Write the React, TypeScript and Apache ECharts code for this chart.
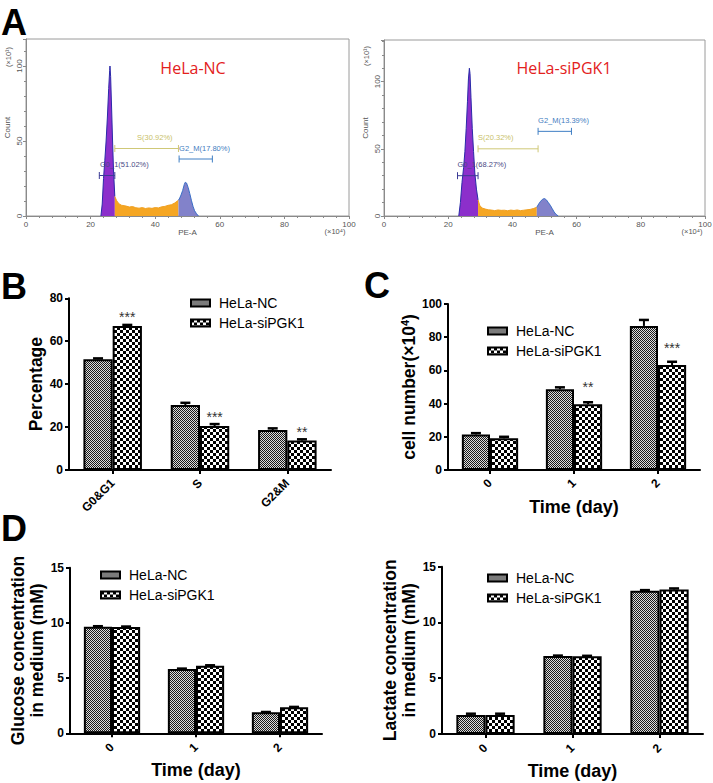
import React, { useEffect, useRef } from 'react';
import * as echarts from 'echarts';

const FONT = '"Liberation Sans", Arial, Helvetica, sans-serif';
const OPEN = '"Open Sans", "Liberation Sans", sans-serif';

// ---------- Panel A: cell-cycle histograms (PE-A x10^4 vs Count x10^1) ----------
const ncG01X = [23.2, 23.6, 24.0, 24.4, 24.8, 25.2, 25.6, 25.9, 26.0, 26.2, 26.5, 26.8, 27.1, 27.5];
const ncG01Y = [0, 8, 25, 37, 50, 66, 85, 97, 100, 93, 72, 50, 30, 13];
const ncSX = [27.5, 28.0, 28.5, 29.0, 29.5, 30.0, 31.0, 32.0, 33.0, 34.0, 35.0, 36.0, 37.0, 38.0, 39.0, 40.0, 41.0, 42.0, 43.0, 44.0, 45.0, 46.0, 47.2];
const ncSY = [13, 10.5, 8.8, 7.9, 7.2, 7.0, 6.6, 6.0, 6.3, 5.5, 5.2, 5.6, 5.0, 5.4, 5.1, 5.6, 5.4, 6.1, 6.4, 7.1, 7.5, 8.6, 10.5];
const ncG2X = [47.2, 47.6, 48.0, 48.5, 49.0, 49.3, 49.7, 50.2, 50.7, 51.2, 51.7, 52.2, 52.8, 53.4];
const ncG2Y = [10.5, 12, 14, 17, 21, 22.5, 22, 19, 15, 10.5, 6.5, 3.5, 1.5, 0];

const siG01X = [23.3, 23.8, 24.3, 24.8, 25.2, 25.6, 26.0, 26.3, 26.6, 26.8, 27.1, 27.5, 27.9, 28.3, 28.8, 29.3];
const siG01Y = [0, 10, 25, 36, 48, 65, 85, 102, 110, 106, 88, 65, 48, 32, 20, 12];
const siSX = [29.3, 29.8, 30.5, 31.5, 32.5, 33.5, 34.5, 35.5, 36.5, 37.5, 38.5, 39.5, 40.5, 41.5, 42.5, 43.5, 44.5, 45.5, 46.5, 47.6];
const siSY = [12, 8, 6, 5.2, 4.6, 4.4, 4.0, 4.5, 4.2, 4.3, 3.9, 4.4, 4.1, 4.5, 4.0, 4.3, 4.6, 4.9, 5.5, 6.5];
const siG2X = [47.6, 48.2, 48.8, 49.4, 50.0, 50.6, 51.2, 51.8, 52.4, 53.0, 53.6, 54.3];
const siG2Y = [6.5, 9, 11, 12.5, 13, 12, 10, 8, 5.5, 3, 1.2, 0];

const ncGateNames = ['G0_1(51.02%)', 'S(30.92%)', 'G2_M(17.80%)'];
const ncGateFrom = [22.7, 27.5, 47.4];
const ncGateTo = [27.5, 47.2, 57.7];
const ncGateLevel = [27, 45, 38];
const ncGateLabelAt = [22.9, 34.4, 47.4];

const siGateNames = ['G0_1(68.27%)', 'S(20.32%)', 'G2_M(13.39%)'];
const siGateFrom = [22.9, 29.3, 48.0];
const siGateTo = [29.3, 48.0, 58.4];
const siGateLevel = [30, 50, 63];
const siGateLabelAt = [22.9, 29.3, 48.0];

const histXTicks = [0, 20, 40, 60, 80, 100];

// ---------- Panel B: cell cycle distribution (%) ----------
const cycleCats = ['G0&G1', 'S', 'G2&M'];
const cycleNC = [51.6, 30.3, 18.6];
const cycleNCErr = [0.4, 1.0, 0.8];
const cycleSi = [67.1, 20.5, 13.7];
const cycleSiErr = [0.5, 0.9, 0.6];
const cycleStars = ['***', '***', '**'];

// ---------- Panel C: cell number (x10^4) ----------
const dayCats = ['0', '1', '2'];
const cellNC = [21.4, 48.6, 86.8];
const cellNCErr = [0.8, 1.2, 3.6];
const cellSi = [19.1, 39.6, 63.2];
const cellSiErr = [0.9, 1.2, 2.0];
const cellStars = ['', '**', '***'];

// ---------- Panel D: glucose / lactate in medium (mM) ----------
const glucoseNC = [9.65, 5.82, 1.9];
const glucoseNCErr = [0.05, 0.04, 0.03];
const glucoseSi = [9.62, 6.12, 2.35];
const glucoseSiErr = [0.05, 0.04, 0.04];

const lactateNC = [1.7, 7.0, 12.85];
const lactateNCErr = [0.12, 0.03, 0.05];
const lactateSi = [1.7, 6.98, 12.95];
const lactateSiErr = [0.12, 0.03, 0.1];

const BAR_FRAC = 0.335;

function makePattern(cell: number, dark: string, light: string) {
  const c = document.createElement('canvas');
  c.width = cell * 2;
  c.height = cell * 2;
  const g = c.getContext('2d')!;
  g.fillStyle = light;
  g.fillRect(0, 0, cell * 2, cell * 2);
  g.fillStyle = dark;
  g.fillRect(0, 0, cell, cell);
  g.fillRect(cell, cell, cell, cell);
  return { image: c, repeat: 'repeat', imageWidth: cell * 2, imageHeight: cell * 2 } as any;
}

function histSeries(name: string, xs: number[], ys: number[], idx: number, fill: string, stroke: string) {
  return {
    name,
    type: 'line',
    xAxisIndex: idx,
    yAxisIndex: idx,
    data: xs.map((x, i) => [x, ys[i]]),
    symbol: 'none',
    lineStyle: { color: stroke, width: 1 },
    areaStyle: { color: fill, opacity: 1 },
    silent: true,
    z: 2,
  };
}

function gateSeries(idx: number, names: string[], from: number[], to: number[], level: number[], labelAt: number[], colors: string[], textColors: string[]) {
  return {
    name: 'gates' + idx,
    type: 'custom',
    xAxisIndex: idx,
    yAxisIndex: idx,
    silent: true,
    z: 5,
    encode: { x: [0, 1, 3], y: 2 },
    data: from.map((f, i) => [f, to[i], level[i], labelAt[i]]),
    renderItem: (params: any, api: any) => {
      const i = params.dataIndex;
      const p1 = api.coord([api.value(0), api.value(2)]);
      const p2 = api.coord([api.value(1), api.value(2)]);
      const pl = api.coord([api.value(3), api.value(2)]);
      const col = colors[i];
      return {
        type: 'group',
        children: [
          { type: 'line', shape: { x1: p1[0], y1: p1[1], x2: p2[0], y2: p2[1] }, style: { stroke: col, lineWidth: 1 } },
          { type: 'line', shape: { x1: p1[0], y1: p1[1] - 3.5, x2: p1[0], y2: p1[1] + 3.5 }, style: { stroke: col, lineWidth: 1 } },
          { type: 'line', shape: { x1: p2[0], y1: p2[1] - 3.5, x2: p2[0], y2: p2[1] + 3.5 }, style: { stroke: col, lineWidth: 1 } },
          {
            type: 'text',
            x: pl[0],
            y: pl[1] - 11,
            style: { text: names[i], fill: textColors[i], fontSize: 7.5, fontFamily: FONT, textAlign: 'left', textVerticalAlign: 'middle' },
          },
        ],
      };
    },
  };
}

function errorSeries(idx: number, nc: number[], ncErr: number[], si: number[], siErr: number[]) {
  const data: number[][] = [];
  nc.forEach((v, i) => data.push([i, v, ncErr[i], 0]));
  si.forEach((v, i) => data.push([i, v, siErr[i], 1]));
  return {
    name: 'err' + idx,
    type: 'custom',
    xAxisIndex: idx,
    yAxisIndex: idx,
    silent: true,
    z: 4,
    encode: { x: 0, y: 1 },
    data,
    renderItem: (params: any, api: any) => {
      const cat = api.value(0);
      const val = api.value(1);
      const err = api.value(2);
      const side = api.value(3);
      const band = api.size([1, 0])[0];
      const bw = band * BAR_FRAC;
      const base = api.coord([cat, val]);
      const tip = api.coord([cat, val + err]);
      const x = base[0] + (side === 0 ? -bw / 2 : bw / 2);
      return {
        type: 'group',
        children: [
          { type: 'line', shape: { x1: x, y1: base[1], x2: x, y2: tip[1] }, style: { stroke: '#000', lineWidth: 2 } },
          { type: 'line', shape: { x1: x - 5, y1: tip[1], x2: x + 5, y2: tip[1] }, style: { stroke: '#000', lineWidth: 2.5 } },
        ],
      };
    },
  };
}

export default function App() {
  const ref = useRef<HTMLDivElement>(null);

  useEffect(() => {
    if (!ref.current) return;
    const chart = echarts.init(ref.current, undefined, { renderer: 'svg' });

    const ncPat = makePattern(1, '#1a1a1a', '#dcdcdc');
    const siPat = makePattern(3, '#000000', '#ffffff');

    const histX = (idx: number) => ({
      gridIndex: idx,
      type: 'value',
      min: 0,
      max: 100,
      interval: 20,
      axisLine: { show: true, lineStyle: { color: '#8a8a8a', width: 1 } },
      axisTick: { show: true, length: 3, lineStyle: { color: '#8a8a8a' } },
      minorTick: { show: true, splitNumber: 5, length: 2, lineStyle: { color: '#8a8a8a' } },
      splitLine: { show: false },
      minorSplitLine: { show: false },
      axisLabel: {
        fontSize: 8,
        color: '#555',
        fontFamily: FONT,
        margin: 4,
        formatter: (v: number) => (histXTicks.indexOf(v) >= 0 ? String(v) : ''),
      },
      name: 'PE-A',
      nameLocation: 'middle',
      nameGap: 7,
      nameTextStyle: { fontSize: 8, color: '#555', fontFamily: FONT },
    });
    const histY = (idx: number, max: number) => ({
      gridIndex: idx,
      type: 'value',
      min: 0,
      max,
      interval: 50,
      axisLine: { show: true, lineStyle: { color: '#8a8a8a', width: 1 } },
      axisTick: { show: true, length: 3, lineStyle: { color: '#8a8a8a' } },
      minorTick: { show: true, splitNumber: 5, length: 2, lineStyle: { color: '#8a8a8a' } },
      splitLine: { show: false },
      minorSplitLine: { show: false },
      axisLabel: { rotate: 90, fontSize: 8, color: '#555', fontFamily: FONT, margin: 3, showMaxLabel: false },
      name: 'Count',
      nameLocation: 'middle',
      nameGap: 15,
      nameTextStyle: { fontSize: 8, color: '#555', fontFamily: FONT },
    });

    const barX = (idx: number, data: string[], name: string, margin: number) => ({
      gridIndex: idx,
      type: 'category',
      data,
      axisLine: { show: true, lineStyle: { color: '#000', width: 2 } },
      axisTick: { show: true, alignWithLabel: true, length: 4, lineStyle: { color: '#000', width: 2 } },
      axisLabel: { interval: 0, rotate: 45, fontSize: 12, fontWeight: 'bold', color: '#000', fontFamily: FONT, margin },
      splitLine: { show: false },
      name,
      nameLocation: 'middle',
      nameGap: 28,
      nameTextStyle: { fontSize: 18, fontWeight: 'bold', color: '#000', fontFamily: FONT },
    });
    const barY = (idx: number, max: number, interval: number, name: string, nameGap: number) => ({
      gridIndex: idx,
      type: 'value',
      min: 0,
      max,
      interval,
      axisLine: { show: true, lineStyle: { color: '#000', width: 2 } },
      axisTick: { show: true, length: 4, lineStyle: { color: '#000', width: 2 } },
      axisLabel: { fontSize: 12, fontWeight: 'bold', color: '#000', fontFamily: FONT, margin: 6 },
      splitLine: { show: false },
      name,
      nameLocation: 'middle',
      nameGap,
      nameTextStyle: {
        fontSize: 17.5,
        fontWeight: 'bold',
        color: '#000',
        fontFamily: FONT,
        lineHeight: 19,
        rich: { sup: { fontSize: 11, fontWeight: 'bold', color: '#000', fontFamily: FONT, padding: [0, 0, 8, 0] } },
      },
    });

    const barPair = (idx: number, nc: number[], si: number[], stars: string[] | null, starDist: number) => [
      {
        name: 'HeLa-NC',
        type: 'bar',
        xAxisIndex: idx,
        yAxisIndex: idx,
        data: nc,
        barWidth: BAR_FRAC * 100 + '%',
        barGap: '0%',
        itemStyle: { color: ncPat, borderColor: '#000', borderWidth: 2 },
        silent: true,
        z: 2,
      },
      {
        name: 'HeLa-siPGK1',
        type: 'bar',
        xAxisIndex: idx,
        yAxisIndex: idx,
        data: si,
        barWidth: BAR_FRAC * 100 + '%',
        barGap: '0%',
        itemStyle: { color: siPat, borderColor: '#000', borderWidth: 2 },
        silent: true,
        z: 2,
        label: stars
          ? {
              show: true,
              position: 'top',
              distance: starDist,
              fontSize: 14,
              color: '#333',
              fontFamily: FONT,
              formatter: (p: any) => stars[p.dataIndex],
            }
          : { show: false },
      },
    ];

    const legend = (left: number, top: number) => ({
      data: ['HeLa-NC', 'HeLa-siPGK1'],
      orient: 'vertical',
      left,
      top,
      padding: 0,
      icon: 'rect',
      itemWidth: 19,
      itemHeight: 7,
      itemGap: 6,
      selectedMode: false,
      itemStyle: { borderColor: '#000', borderWidth: 2 },
      textStyle: { fontSize: 14, color: '#000', fontFamily: FONT, lineHeight: 14, padding: [0, 0, 0, 4] },
    });

    const letter = (t: string, x: number, y: number) => ({
      type: 'text',
      x,
      y,
      style: { text: t, fill: '#000', fontSize: 36, fontWeight: 'bold', fontFamily: FONT, textAlign: 'center', textVerticalAlign: 'middle' },
    });
    const small = (t: string, x: number, y: number, rot: number) => ({
      type: 'text',
      x,
      y,
      rotation: rot,
      style: { text: t, fill: '#555', fontSize: 7.5, fontFamily: FONT, textAlign: 'center', textVerticalAlign: 'middle' },
    });
    const title = (t: string, x: number, y: number) => ({
      type: 'text',
      x,
      y,
      style: { text: t, fill: '#E3211C', fontSize: 16, fontFamily: OPEN, textAlign: 'center', textVerticalAlign: 'middle' },
    });

    const gateColors = ['#3b3b96', '#cfc877', '#3f7fc4'];
    const gateText = ['#4a4a85', '#c9bf6a', '#3f7cc0'];

    const option: any = {
      animation: false,
      backgroundColor: '#ffffff',
      grid: [
        { left: 26, top: 39, width: 323, height: 177, show: true, borderColor: '#9a9a9a', borderWidth: 1, outerBoundsMode: 'none' },
        { left: 384, top: 40, width: 321, height: 176, show: true, borderColor: '#9a9a9a', borderWidth: 1, outerBoundsMode: 'none' },
        { left: 69, top: 298.3, width: 262, height: 171.7, outerBoundsMode: 'none' },
        { left: 448, top: 304, width: 252, height: 166, outerBoundsMode: 'none' },
        { left: 70, top: 567.7, width: 252, height: 165.6, outerBoundsMode: 'none' },
        { left: 442, top: 566.7, width: 261, height: 167.3, outerBoundsMode: 'none' },
      ],
      xAxis: [
        histX(0),
        histX(1),
        barX(2, cycleCats, '', 11),
        barX(3, dayCats, 'Time (day)', 11),
        barX(4, dayCats, 'Time (day)', 12),
        barX(5, dayCats, 'Time (day)', 12),
      ],
      yAxis: [
        histY(0, 118),
        histY(1, 131),
        barY(2, 80, 20, 'Percentage', 23),
        barY(3, 100, 20, 'cell number(×10{sup|4})', 29),
        barY(4, 15, 5, 'Glucose concentration\nin medium (mM)', 19),
        barY(5, 15, 5, 'Lactate concentration\nin medium (mM)', 19),
      ],
      legend: [legend(190, 296), legend(487, 324), legend(100, 568), legend(487, 571)],
      series: [
        histSeries('NC G0/G1', ncG01X, ncG01Y, 0, '#8C2FCB', '#2a2aa8'),
        histSeries('NC S', ncSX, ncSY, 0, '#F5A623', '#F0A020'),
        histSeries('NC G2/M', ncG2X, ncG2Y, 0, '#8282CA', '#3a6ec6'),
        histSeries('si G0/G1', siG01X, siG01Y, 1, '#8C2FCB', '#2a2aa8'),
        histSeries('si S', siSX, siSY, 1, '#F5A623', '#F0A020'),
        histSeries('si G2/M', siG2X, siG2Y, 1, '#8282CA', '#3a6ec6'),
        gateSeries(0, ncGateNames, ncGateFrom, ncGateTo, ncGateLevel, ncGateLabelAt, gateColors, gateText),
        gateSeries(1, siGateNames, siGateFrom, siGateTo, siGateLevel, siGateLabelAt, gateColors, gateText),
        ...barPair(2, cycleNC, cycleSi, cycleStars, 2),
        errorSeries(2, cycleNC, cycleNCErr, cycleSi, cycleSiErr),
        ...barPair(3, cellNC, cellSi, cellStars, 10),
        errorSeries(3, cellNC, cellNCErr, cellSi, cellSiErr),
        ...barPair(4, glucoseNC, glucoseSi, null, 0),
        errorSeries(4, glucoseNC, glucoseNCErr, glucoseSi, glucoseSiErr),
        ...barPair(5, lactateNC, lactateSi, null, 0),
        errorSeries(5, lactateNC, lactateNCErr, lactateSi, lactateSiErr),
      ],
      graphic: [
        letter('A', 14, 22),
        letter('B', 14, 286),
        letter('C', 377, 285),
        letter('D', 14, 528),
        title('HeLa-NC', 193, 68),
        title('HeLa-siPGK1', 564, 68),
        small('(×10¹)', 8, 57, Math.PI / 2),
        small('(×10¹)', 366.5, 56, Math.PI / 2),
        small('(×10⁴)', 335, 231, 0),
        small('(×10⁴)', 692, 231, 0),
      ],
    };

    chart.setOption(option);
    return () => chart.dispose();
  }, []);

  return (
    <div
      ref={ref}
      style={{ position: 'fixed', left: 0, top: 0, width: 713, height: 783, background: '#fff' }}
    />
  );
}
